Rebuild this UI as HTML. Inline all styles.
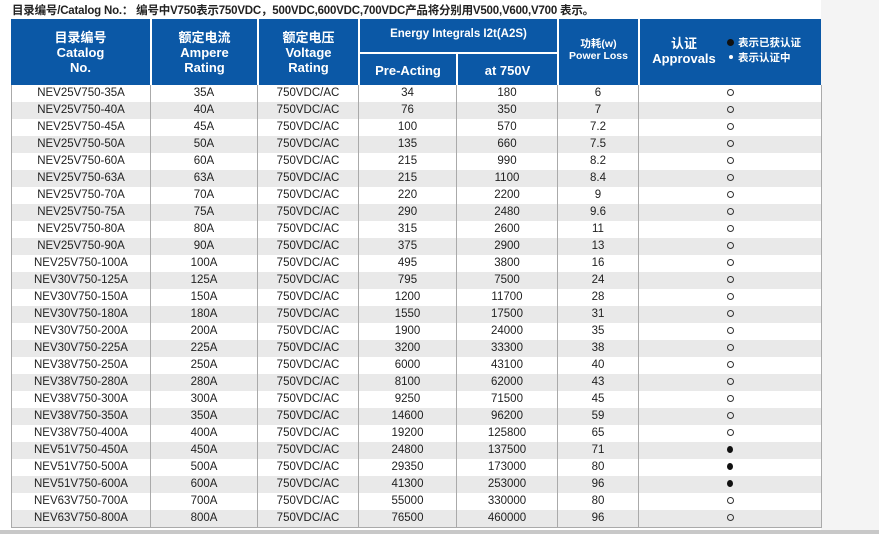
<!DOCTYPE html>
<html><head><meta charset="utf-8"><style>
*{margin:0;padding:0;box-sizing:border-box}
body{width:879px;height:534px;background:#fff;position:relative;overflow:hidden;font-family:"Liberation Sans","Noto Sans CJK SC",sans-serif}
#rbg{position:absolute;left:821px;top:0;width:58px;height:534px;background:#f4f4f4}
#bbar{position:absolute;left:0;top:530px;width:879px;height:4px;background:#c8c8c8}
#title{position:absolute;left:12px;top:2px;font-size:11.5px;font-weight:bold;color:#222;white-space:nowrap;letter-spacing:-0.2px}
#hdr{position:absolute;left:11px;top:19px;width:810px;height:66px;background:#0b58a6}
.h{position:absolute;color:#fff;font-weight:bold;text-align:center;line-height:15px;font-size:13px}
.vl{position:absolute;top:0;width:2px;height:66px;background:#fff}
table{position:absolute;left:11px;top:85px;width:810px;border-collapse:collapse;table-layout:fixed}
td{height:17px;border-left:1px solid #aaa;border-right:1px solid #aaa;text-align:center;font-size:11.5px;color:#222;line-height:17px;padding:0}
tr:nth-child(even) td{background:#e9e9e9}
tr:last-child td{border-bottom:1px solid #aaa}
.o{display:inline-block;width:7px;height:7px;border:1.2px solid #333;border-radius:50%}
.f{display:inline-block;width:6px;height:7px;background:#111;border-radius:50%}
</style></head><body>
<div id="rbg"></div>
<div id="title">目录编号/Catalog No.： 编号中V750表示750VDC，500VDC,600VDC,700VDC产品将分别用V500,V600,V700 表示。</div>
<div id="hdr">
<div class="h" style="left:0;width:139px;top:11px">目录编号<br>Catalog<br>No.</div>
<div class="vl" style="left:139px"></div>
<div class="h" style="left:141px;width:105px;top:11px">额定电流<br>Ampere<br>Rating</div>
<div class="vl" style="left:246px"></div>
<div class="h" style="left:248px;width:99px;top:11px">额定电压<br>Voltage<br>Rating</div>
<div class="vl" style="left:347px"></div>
<div class="h" style="left:349px;width:197px;top:8px;font-size:11.5px">Energy Integrals I2t(A2S)</div>
<div style="position:absolute;left:349px;top:33px;width:197px;height:2px;background:#fff"></div>
<div class="h" style="left:349px;width:96px;top:44px">Pre-Acting</div>
<div class="vl" style="left:445px;top:35px;height:31px"></div>
<div class="h" style="left:447px;width:99px;top:44px">at 750V</div>
<div class="vl" style="left:546px"></div>
<div class="h" style="left:548px;width:79px;top:19px;font-size:10.5px;line-height:12px">功耗(w)<br>Power Loss</div>
<div class="vl" style="left:627px"></div>
<div class="h" style="left:632px;width:82px;top:17px;font-size:13px">认证<br>Approvals</div>
<div class="h" style="left:716px;width:100px;top:17px;font-size:10.5px;text-align:left;line-height:15px"><span style="display:inline-block;width:7px;height:7px;background:#111;border-radius:50%;margin-right:4px"></span>表示已获认证<br><span style="display:inline-block;width:4px;height:4px;background:#fff;border-radius:50%;margin:0 5px 2px 2px"></span>表示认证中</div>
</div>
<table>
<colgroup><col style="width:139px"><col style="width:107px"><col style="width:101px"><col style="width:98px"><col style="width:101px"><col style="width:81px"><col style="width:183px"></colgroup>
<tbody>
<tr><td>NEV25V750-35A</td><td>35A</td><td>750VDC/AC</td><td>34</td><td>180</td><td>6</td><td><span class="o"></span></td></tr>
<tr><td>NEV25V750-40A</td><td>40A</td><td>750VDC/AC</td><td>76</td><td>350</td><td>7</td><td><span class="o"></span></td></tr>
<tr><td>NEV25V750-45A</td><td>45A</td><td>750VDC/AC</td><td>100</td><td>570</td><td>7.2</td><td><span class="o"></span></td></tr>
<tr><td>NEV25V750-50A</td><td>50A</td><td>750VDC/AC</td><td>135</td><td>660</td><td>7.5</td><td><span class="o"></span></td></tr>
<tr><td>NEV25V750-60A</td><td>60A</td><td>750VDC/AC</td><td>215</td><td>990</td><td>8.2</td><td><span class="o"></span></td></tr>
<tr><td>NEV25V750-63A</td><td>63A</td><td>750VDC/AC</td><td>215</td><td>1100</td><td>8.4</td><td><span class="o"></span></td></tr>
<tr><td>NEV25V750-70A</td><td>70A</td><td>750VDC/AC</td><td>220</td><td>2200</td><td>9</td><td><span class="o"></span></td></tr>
<tr><td>NEV25V750-75A</td><td>75A</td><td>750VDC/AC</td><td>290</td><td>2480</td><td>9.6</td><td><span class="o"></span></td></tr>
<tr><td>NEV25V750-80A</td><td>80A</td><td>750VDC/AC</td><td>315</td><td>2600</td><td>11</td><td><span class="o"></span></td></tr>
<tr><td>NEV25V750-90A</td><td>90A</td><td>750VDC/AC</td><td>375</td><td>2900</td><td>13</td><td><span class="o"></span></td></tr>
<tr><td>NEV25V750-100A</td><td>100A</td><td>750VDC/AC</td><td>495</td><td>3800</td><td>16</td><td><span class="o"></span></td></tr>
<tr><td>NEV30V750-125A</td><td>125A</td><td>750VDC/AC</td><td>795</td><td>7500</td><td>24</td><td><span class="o"></span></td></tr>
<tr><td>NEV30V750-150A</td><td>150A</td><td>750VDC/AC</td><td>1200</td><td>11700</td><td>28</td><td><span class="o"></span></td></tr>
<tr><td>NEV30V750-180A</td><td>180A</td><td>750VDC/AC</td><td>1550</td><td>17500</td><td>31</td><td><span class="o"></span></td></tr>
<tr><td>NEV30V750-200A</td><td>200A</td><td>750VDC/AC</td><td>1900</td><td>24000</td><td>35</td><td><span class="o"></span></td></tr>
<tr><td>NEV30V750-225A</td><td>225A</td><td>750VDC/AC</td><td>3200</td><td>33300</td><td>38</td><td><span class="o"></span></td></tr>
<tr><td>NEV38V750-250A</td><td>250A</td><td>750VDC/AC</td><td>6000</td><td>43100</td><td>40</td><td><span class="o"></span></td></tr>
<tr><td>NEV38V750-280A</td><td>280A</td><td>750VDC/AC</td><td>8100</td><td>62000</td><td>43</td><td><span class="o"></span></td></tr>
<tr><td>NEV38V750-300A</td><td>300A</td><td>750VDC/AC</td><td>9250</td><td>71500</td><td>45</td><td><span class="o"></span></td></tr>
<tr><td>NEV38V750-350A</td><td>350A</td><td>750VDC/AC</td><td>14600</td><td>96200</td><td>59</td><td><span class="o"></span></td></tr>
<tr><td>NEV38V750-400A</td><td>400A</td><td>750VDC/AC</td><td>19200</td><td>125800</td><td>65</td><td><span class="o"></span></td></tr>
<tr><td>NEV51V750-450A</td><td>450A</td><td>750VDC/AC</td><td>24800</td><td>137500</td><td>71</td><td><span class="f"></span></td></tr>
<tr><td>NEV51V750-500A</td><td>500A</td><td>750VDC/AC</td><td>29350</td><td>173000</td><td>80</td><td><span class="f"></span></td></tr>
<tr><td>NEV51V750-600A</td><td>600A</td><td>750VDC/AC</td><td>41300</td><td>253000</td><td>96</td><td><span class="f"></span></td></tr>
<tr><td>NEV63V750-700A</td><td>700A</td><td>750VDC/AC</td><td>55000</td><td>330000</td><td>80</td><td><span class="o"></span></td></tr>
<tr><td>NEV63V750-800A</td><td>800A</td><td>750VDC/AC</td><td>76500</td><td>460000</td><td>96</td><td><span class="o"></span></td></tr>
</tbody></table>
<div id="bbar"></div>
</body></html>
